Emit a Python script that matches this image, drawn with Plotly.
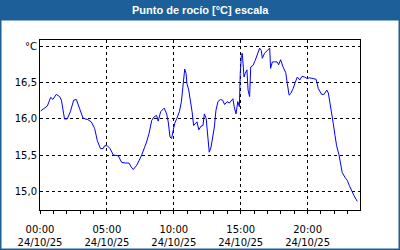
import plotly.graph_objects as go

day = "2025-10-24"
times = ["00:03","00:21","00:33","00:48","00:58","01:13","01:28","01:36","01:50","02:02",
         "02:16","02:31","02:43","02:58","03:13","03:35","03:50","04:05","04:17","04:31",
         "04:43","04:50","05:02","05:14","05:29","05:51","06:06","06:24","06:39","06:48",
         "06:58","07:14","07:25","07:36","07:48","07:58","08:09","08:21","08:32","08:43",
         "08:50","09:01","09:17","09:28","09:35","09:43","09:50","10:01","10:04","10:14",
         "10:25","10:34","10:41","10:49","10:55","10:59","11:07","11:14","11:22","11:29",
         "11:37","11:44","11:52","12:02","12:11","12:17","12:25","12:32","12:39","12:47",
         "12:55","13:02","13:09","13:18","13:29","13:39","13:48","13:59","14:09","14:18",
         "14:25","14:31","14:39","14:47","14:54","14:58","15:03","15:07","15:15","15:20",
         "15:28","15:33","15:40","15:45","15:55","16:05","16:14","16:25","16:32","16:37",
         "16:47","16:59","17:10","17:14","17:22","17:32","17:43","17:50","17:59","18:10",
         "18:22","18:29","18:37","18:44","18:55","19:05","19:14","19:25","19:35","19:47",
         "19:57","20:08","20:21","20:38","20:48","20:56","21:03","21:14","21:26","21:33",
         "21:40","21:48","21:55","22:03","22:10","22:21","22:28","22:35","22:48","22:58",
         "23:07","23:18","23:28","23:37","23:43"]
dew_point = [16.11,16.15,16.18,16.30,16.27,16.34,16.31,16.26,16.00,16.00,
             16.10,16.26,16.27,16.14,16.01,15.99,15.96,15.87,15.70,15.59,
             15.59,15.63,15.63,15.59,15.50,15.49,15.40,15.39,15.39,15.34,
             15.30,15.36,15.42,15.50,15.60,15.68,15.80,15.98,16.03,16.05,
             15.97,16.10,16.15,16.07,15.96,15.75,15.73,15.91,15.94,16.01,
             16.10,16.24,16.49,16.69,16.63,16.49,16.40,16.28,16.10,15.91,
             15.94,15.96,15.85,15.90,15.91,16.07,16.01,15.80,15.54,15.61,
             15.75,15.89,16.12,16.24,16.27,16.26,16.20,16.24,16.22,16.25,
             16.28,16.17,16.07,16.24,16.17,16.63,16.88,16.91,16.58,16.63,
             16.68,16.40,16.31,16.72,16.74,16.81,16.89,16.98,16.95,16.84,
             16.91,16.95,16.98,16.70,16.79,16.79,16.79,16.75,16.82,16.72,
             16.64,16.49,16.33,16.35,16.42,16.51,16.58,16.54,16.59,16.58,
             16.56,16.57,16.56,16.55,16.42,16.38,16.34,16.34,16.40,16.36,
             16.24,16.10,15.94,15.77,15.63,15.50,15.38,15.26,15.19,15.15,
             15.08,15.00,14.94,14.89,14.86]
y_tickvals = [15.0, 15.5, 16.0, 16.5, 17.0]
y_ticktext = ["15,0", "15,5", "16,0", "16,5", "°C"]
title_text = "Punto de rocío [°C] escala"

BLUE = "#1d5f98"
x = [f"{day} {t}" for t in times]

fig = go.Figure(go.Scatter(x=x, y=dew_point, mode="lines",
                           line=dict(color="#0000ff", width=1), hoverinfo="skip"))

L, R, T, B = 40, 40, 40, 40
W, H = 400, 250
pw, ph = W - L - R, H - T - B
def px(v): return (v - L) / pw
def py(v): return (H - B - v) / ph

fig.update_layout(
    width=W, height=H, autosize=False,
    margin=dict(l=L, r=R, t=T, b=B),
    paper_bgcolor="white", plot_bgcolor="white",
    showlegend=False,
    font=dict(family="DejaVu Sans", size=10, color="black"),
    xaxis=dict(type="date", range=[f"{day} 00:00", f"{day} 23:55"],
               tick0=f"{day} 00:00", dtick=5 * 3600 * 1000,
               tickformat="%H:%M<br>%d/%m/%y",
               showgrid=True, gridcolor="black", griddash="3px,3px", gridwidth=1,
               ticks="outside", ticklen=3, tickcolor="black", tickwidth=1,
               ticklabelstandoff=7, automargin=False,
               minor=dict(dtick=3600 * 1000, ticks="outside", ticklen=3,
                          tickcolor="black", showgrid=False),
               showline=True, mirror=True, linecolor="black", linewidth=1,
               zeroline=False, fixedrange=True),
    yaxis=dict(range=[14.74, 17.093], tickmode="array",
               tickvals=y_tickvals, ticktext=y_ticktext,
               showgrid=True, gridcolor="black", griddash="3px,3px", gridwidth=1,
               ticks="", automargin=False,
               showline=True, mirror=True, linecolor="black", linewidth=1,
               zeroline=False, fixedrange=True),
    shapes=[
        dict(type="rect", xref="paper", yref="paper",
             x0=px(0), x1=px(W), y0=py(20.5), y1=py(0),
             fillcolor=BLUE, line=dict(width=0), layer="above"),
        dict(type="rect", xref="paper", yref="paper",
             x0=px(0), x1=px(W), y0=py(H), y1=py(0),
             fillcolor="rgba(0,0,0,0)", line=dict(color=BLUE, width=3), layer="above"),
    ],
    annotations=[
        dict(text=f"<b>{title_text}</b>", xref="paper", yref="paper",
             x=0.5, y=py(10.5), xanchor="center", yanchor="middle",
             showarrow=False,
             font=dict(family="Liberation Sans", size=11, color="white")),
    ],
)

fig.write_html("out.html")
